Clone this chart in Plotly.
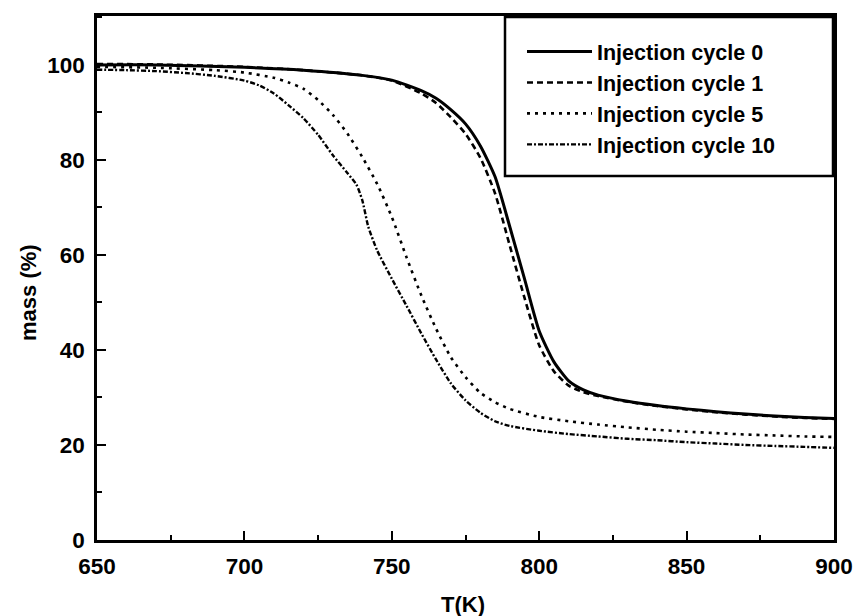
import plotly.graph_objects as go

# ---- data ----
T0 = [650, 670, 700, 720, 740, 750, 760, 765, 770, 775, 780, 785, 790, 795, 800, 805, 810, 815, 820, 830, 840, 850, 860, 870, 880, 890, 900]
m0 = [100, 100, 99.5, 98.9, 97.8, 96.8, 94.6, 93, 90.6, 87.6, 83, 76.5, 66, 55, 44, 37.5, 33.5, 31.6, 30.5, 29.2, 28.3, 27.6, 27, 26.5, 26.1, 25.8, 25.6]

T1 = [650, 670, 700, 720, 740, 750, 760, 765, 770, 775, 780, 785, 790, 795, 800, 805, 810, 815, 820, 830, 840, 850, 860, 870, 880, 890, 900]
m1 = [100.2, 100.1, 99.6, 98.9, 97.8, 96.7, 94, 92, 89, 85.5, 80.5, 73, 62, 51, 41, 35.5, 32.5, 31.1, 30.3, 29.1, 28.2, 27.5, 26.9, 26.4, 26.0, 25.7, 25.5]

T5 = [650, 670, 690, 700, 710, 715, 720, 725, 730, 735, 740, 745, 750, 755, 760, 765, 770, 775, 780, 785, 790, 800, 810, 820, 830, 840, 850, 860, 870, 880, 890, 900]
m5 = [99.6, 99.4, 98.9, 98.4, 97.3, 96.3, 95, 92.6, 89.5, 85.5, 80.6, 75, 68, 59.5, 51.5, 44.5, 38.5, 34.3, 31, 29, 27.6, 25.9, 25, 24.3, 23.7, 23.2, 22.8, 22.5, 22.2, 22, 21.8, 21.7]

T10 = [650, 660, 670, 680, 690, 700, 705, 710, 715, 720, 725, 730, 735, 738, 740, 742, 745, 750, 755, 760, 765, 770, 775, 780, 785, 790, 800, 810, 820, 830, 840, 850, 860, 870, 880, 890, 900]
m10 = [99, 98.9, 98.7, 98.3, 97.7, 96.7, 95.7, 94, 91.5, 88.8, 85.3, 81, 77.2, 74.8, 71.5, 66, 61, 55, 49.3, 43.5, 38, 33, 29.4, 26.8, 25, 24, 23, 22.3, 21.8, 21.3, 21, 20.6, 20.3, 20, 19.8, 19.6, 19.4]

names = ["Injection cycle 0", "Injection cycle 1", "Injection cycle 5", "Injection cycle 10"]

x_ticks = [650, 700, 750, 800, 850, 900]
y_ticks = [0, 20, 40, 60, 80, 100]

FONT = "Liberation Sans, Arial, sans-serif"

series = [
    (T0, m0, "solid", 3),
    (T1, m1, "6px,4px", 2.6),
    (T5, m5, "3px,5px", 2.6),
    (T10, m10, "5px,2px,2px,2px", 2.4),
]

fig = go.Figure()
for (tx, my, dash, w), nm in zip(series, names):
    fig.add_trace(go.Scatter(
        x=tx, y=my, mode="lines", name=nm,
        line=dict(color="black", width=w, dash=dash, shape="spline", smoothing=0.6),
    ))

axis_common = dict(
    showgrid=False, zeroline=False, showline=True, linecolor="black", linewidth=2.5,
    mirror=True, ticks="inside", ticklen=9, tickwidth=2, tickcolor="black", automargin=False,
    tickfont=dict(family=FONT, size=22.5, color="black", weight="bold"),
)

fig.update_xaxes(range=[650, 900], tickvals=x_ticks, ticktext=[str(v) for v in x_ticks],
                 minor=dict(ticks="inside", ticklen=5, tickwidth=2, tickcolor="black", dtick=25, tick0=650),
                 ticklabelstandoff=4, **axis_common)
fig.update_yaxes(range=[0, 110.3], tickvals=y_ticks, ticktext=[str(v) for v in y_ticks],
                 minor=dict(ticks="inside", ticklen=5, tickwidth=2, tickcolor="black", dtick=10, tick0=0),
                 ticklabelstandoff=5, **axis_common)

W, H = 853, 616
L, R, Tm, B = 97, 19, 16, 76
pw, ph = W - L - R, H - Tm - B

def px2paper_x(px):
    return (px - L) / pw

def px2paper_y(py):
    return (H - B - py) / ph

fig.update_layout(
    width=W, height=H,
    margin=dict(l=L, r=R, t=Tm, b=B, pad=0, autoexpand=False),
    paper_bgcolor="white", plot_bgcolor="white",
    showlegend=True,
    legend=dict(
        xref="container", yref="container",
        x=522 / W, xanchor="left",
        y=1 - 31 / H, yanchor="top",
        bgcolor="rgba(0,0,0,0)", borderwidth=0,
        font=dict(family=FONT, size=21.5, color="black", weight="bold"),
        itemwidth=65, tracegroupgap=0,
    ),
    annotations=[
        dict(text="T(K)", xref="paper", yref="paper", x=px2paper_x(463), y=px2paper_y(604),
             xanchor="center", yanchor="middle", showarrow=False,
             font=dict(family=FONT, size=22, color="black", weight="bold")),
        dict(text="mass (%)", xref="paper", yref="paper", x=px2paper_x(28), y=px2paper_y(293),
             xanchor="center", yanchor="middle", showarrow=False, textangle=-90,
             font=dict(family=FONT, size=22, color="black", weight="bold")),
    ],
    shapes=[
        dict(type="rect", xref="paper", yref="paper",
             x0=px2paper_x(505), x1=px2paper_x(833), y0=px2paper_y(176), y1=px2paper_y(17),
             line=dict(color="black", width=2.5), fillcolor="rgba(0,0,0,0)"),
    ],
)

fig.write_html("out.html",
               config={"displayModeBar": False, "responsive": False},
               post_script="document.body.style.margin='0';document.body.style.padding='0';")
